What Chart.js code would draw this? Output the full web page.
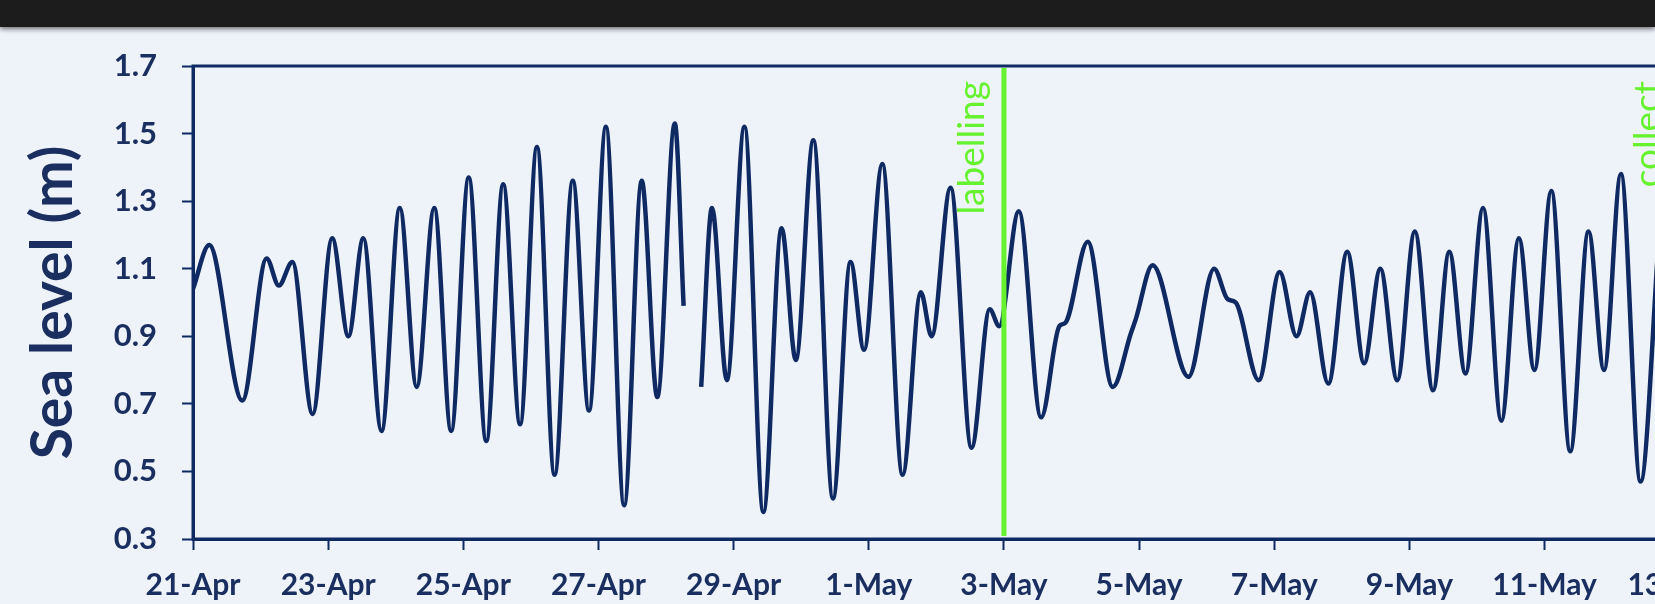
<!DOCTYPE html>
<html>
<head>
<meta charset="utf-8">
<script src="https://cdn.jsdelivr.net/npm/chart.js@4"></script>
<style>
  html, body { margin: 0; padding: 0; width: 1655px; height: 604px; overflow: hidden; background: #eef2f9; }
  #bar { position: absolute; left: 0; top: 0; width: 1655px; height: 27px; background: #1c1c1c; box-shadow: 0 2px 5px rgba(0,0,0,0.55); z-index: 2; }
  #c { position: absolute; left: 0; top: 0; }
</style>
</head>
<body>
<div id="bar"></div>
<canvas id="c" width="1749" height="604"></canvas>
<script>
// days since 21-Apr and sea level (m)
var days = [0.00, 0.24, 0.73, 1.09, 1.27, 1.47, 1.77, 2.06, 2.30, 2.52, 2.79, 3.06, 3.31, 3.57, 3.82,
    4.08, 4.34, 4.59, 4.84, 5.09, 5.35, 5.62, 5.86, 6.11, 6.38, 6.64, 6.87, 7.13, 7.26, 7.39,
    7.52, 7.68, 7.90, 8.16, 8.44, 8.71, 8.92, 9.18, 9.47, 9.73, 9.93, 10.20, 10.50, 10.77, 10.93,
    11.21, 11.52, 11.79, 11.93, 12.22, 12.55, 12.82, 12.91, 13.24, 13.61, 13.88, 13.95, 14.20, 14.73,
    15.11, 15.31, 15.43, 15.77, 16.08, 16.33, 16.53, 16.80, 17.08, 17.33, 17.57, 17.82, 18.08, 18.35,
    18.59, 18.83, 19.09, 19.36, 19.62, 19.85, 20.10, 20.38, 20.65, 20.88, 21.13, 21.42, 21.70];
var seaLevel = [1.04, 1.17, 0.71, 1.13, 1.05, 1.12, 0.67, 1.19, 0.90, 1.19, 0.62, 1.28, 0.75, 1.28, 0.62,
    1.37, 0.59, 1.35, 0.64, 1.46, 0.49, 1.36, 0.68, 1.52, 0.40, 1.36, 0.72, 1.53, 0.99, null,
    0.75, 1.28, 0.77, 1.52, 0.38, 1.22, 0.83, 1.48, 0.42, 1.12, 0.86, 1.41, 0.49, 1.03, 0.90,
    1.34, 0.57, 0.98, 0.93, 1.27, 0.66, 0.93, 0.94, 1.18, 0.75, 0.91, 0.95, 1.11, 0.78,
    1.10, 1.01, 1.00, 0.77, 1.09, 0.90, 1.03, 0.76, 1.15, 0.82, 1.10, 0.77, 1.21, 0.74,
    1.15, 0.79, 1.28, 0.65, 1.19, 0.80, 1.33, 0.56, 1.21, 0.80, 1.38, 0.47, 1.22];

var tickLabels = ['21-Apr', '23-Apr', '25-Apr', '27-Apr', '29-Apr', '1-May', '3-May',
    '5-May', '7-May', '9-May', '11-May', '13-May'];
var markerDays = [12, 22];
var markerText = ['labelling', 'collect'];

var navy = '#0f2a62';
var textNavy = '#1a2f60';
var green = '#66f22e';

var points = days.map(function (d, i) {
    return {x: d, y: seaLevel[i]};
});

var frameAndMarkers = {
    id: 'frameAndMarkers',
    afterDatasetsDraw: function (chart) {
        var ctx = chart.ctx, a = chart.chartArea, x = chart.scales.x;
        ctx.save();
        markerDays.forEach(function (d, i) {
            var px = x.getPixelForValue(d);
            ctx.strokeStyle = green;
            ctx.lineWidth = 5;
            ctx.beginPath();
            ctx.moveTo(px, a.top + 2);
            ctx.lineTo(px, a.bottom - 3);
            ctx.stroke();
            ctx.save();
            ctx.translate(px - 20, a.top + 15);
            ctx.rotate(-Math.PI / 2);
            ctx.fillStyle = green;
            ctx.font = '37px Lato';
            ctx.textAlign = 'right';
            ctx.textBaseline = 'alphabetic';
            ctx.fillText(markerText[i], 0, 0);
            ctx.restore();
        });
        ctx.strokeStyle = navy;
        ctx.lineWidth = 3;
        ctx.strokeRect(a.left, a.top, a.right - a.left, a.bottom - a.top);
        ctx.restore();
    }
};

new Chart(document.getElementById('c'), {
    type: 'line',
    data: {
        datasets: [{
            label: 'Sea level',
            data: points,
            borderColor: navy,
            borderWidth: 4.5,
            pointRadius: 0,
            cubicInterpolationMode: 'monotone',
            spanGaps: false,
            fill: false
        }]
    },
    options: {
        responsive: false,
        animation: false,
        layout: {padding: {top: 66, right: 60, left: 0, bottom: 0}},
        plugins: {legend: {display: false}, tooltip: {enabled: false}},
        scales: {
            x: {
                type: 'linear',
                min: 0,
                max: 22,
                afterFit: function (s) { s.height = 65; },
                ticks: {
                    stepSize: 2,
                    padding: 17,
                    color: textNavy,
                    font: {family: 'Lato', size: 30, weight: 'bold'},
                    maxRotation: 0,
                    callback: function (v) { return tickLabels[Math.round(v / 2)]; }
                },
                grid: {drawOnChartArea: false, drawTicks: true, tickLength: 11, tickWidth: 2, tickColor: navy},
                border: {display: true, color: navy, width: 3}
            },
            y: {
                min: 0.3,
                max: 1.7,
                afterFit: function (s) { s.width = 193; },
                ticks: {
                    stepSize: 0.2,
                    padding: 25,
                    color: textNavy,
                    font: {family: 'Lato', size: 31, weight: 'bold'},
                    callback: function (v) { return Number(v).toFixed(1); }
                },
                grid: {drawOnChartArea: false, drawTicks: true, tickLength: 11, tickWidth: 2, tickColor: navy},
                border: {display: true, color: navy, width: 3},
                title: {
                    display: true,
                    text: 'Sea level (m)',
                    color: textNavy,
                    font: {family: 'Lato', size: 57, weight: 'bold'},
                    padding: {top: 19, bottom: 0}
                }
            }
        }
    },
    plugins: [frameAndMarkers]
});
</script>
</body>
</html>
